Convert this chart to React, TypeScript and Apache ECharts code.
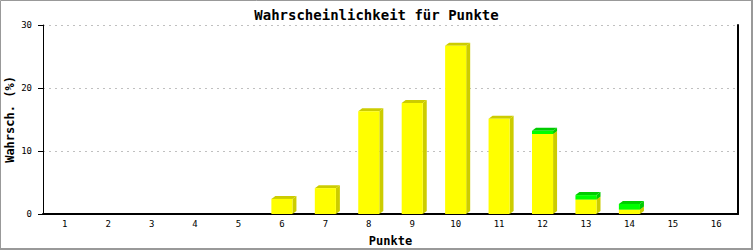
import React, { useEffect, useRef } from "react";
import * as echarts from "echarts";

const categories = ["1", "2", "3", "4", "5", "6", "7", "8", "9", "10", "11", "12", "13", "14", "15", "16"];
const yellowValues = [0, 0, 0, 0, 0, 2.4, 4.1, 16.3, 17.6, 26.7, 15.1, 12.7, 2.3, 0.7, 0, 0];
const greenValues = [0, 0, 0, 0, 0, 0, 0, 0, 0, 0, 0, 0.5, 0.7, 0.9, 0, 0];
const yTicks = { min: 0, max: 30, interval: 10 };

const FONT = "'DejaVu Sans Mono', monospace";

function makeRender(front: string, shade: string) {
  return (params: any, api: any) => {
    const idx = api.value(0);
    const b = api.value(1);
    const t = api.value(2);
    if (t - b <= 0) return { type: "group", children: [] };
    const base = api.coord([idx, b]);
    const top = api.coord([idx, t]);
    const band = api.size([1, 0])[0];
    const w = band * 0.485;
    const x = base[0] - w / 2;
    const yB = base[1];
    const yT = top[1];
    const dx = 4;
    const dy = 3;
    return {
      type: "group",
      children: [
        {
          type: "polygon",
          shape: { points: [[x + w, yT], [x + w + dx, yT - dy], [x + w + dx, yB - dy], [x + w, yB]] },
          style: { fill: shade },
        },
        {
          type: "polygon",
          shape: { points: [[x, yT], [x + dx, yT - dy], [x + w + dx, yT - dy], [x + w, yT]] },
          style: { fill: shade },
        },
        {
          type: "rect",
          shape: { x, y: yT, width: w, height: yB - yT },
          style: { fill: front },
        },
      ],
    };
  };
}

export default function App() {
  const ref = useRef<HTMLDivElement>(null);
  useEffect(() => {
    document.body.style.margin = "0";
    if (!ref.current) return;
    const chart = echarts.init(ref.current, null, { renderer: "svg" });
    const yellowData = yellowValues.map((v, i) => [i, 0, v]);
    const greenData = greenValues.map((g, i) => [i, yellowValues[i], yellowValues[i] + g]);
    chart.setOption({
      animation: false,
      backgroundColor: "#ffffff",
      title: {
        text: "Wahrscheinlichkeit für Punkte",
        left: "center",
        top: 3,
        textStyle: { fontFamily: FONT, fontSize: 14, fontWeight: "bold", color: "#000" },
      },
      grid: { left: 43, right: 15, top: 25, bottom: 36, containLabel: false, outerBoundsMode: "none" },
      xAxis: {
        type: "category",
        data: categories,
        boundaryGap: true,
        name: "Punkte",
        nameLocation: "middle",
        nameGap: 21,
        nameMoveOverlap: false,
        nameTextStyle: { fontFamily: FONT, fontSize: 12, fontWeight: "bold", color: "#000" },
        axisLine: { lineStyle: { color: "#000", width: 2 } },
        axisTick: { show: false },
        axisLabel: { fontFamily: FONT, fontSize: 9, color: "#000", margin: 5 },
      },
      yAxis: [
        {
          type: "value",
          min: yTicks.min,
          max: yTicks.max,
          interval: yTicks.interval,
          name: "Wahrsch. (%)",
          nameLocation: "middle",
          nameGap: 27,
          nameMoveOverlap: false,
          nameTextStyle: { fontFamily: FONT, fontSize: 12, fontWeight: "bold", color: "#000" },
          axisLine: { show: true, lineStyle: { color: "#000", width: 1 } },
          axisTick: { show: true, length: 5, lineStyle: { color: "#000" } },
          axisLabel: { fontFamily: FONT, fontSize: 9, color: "#000", margin: 11 },
          splitLine: { show: true, lineStyle: { color: "#c0c0c0", type: [2, 4], width: 1 } },
        },
        {
          type: "value",
          min: yTicks.min,
          max: yTicks.max,
          interval: yTicks.interval,
          position: "right",
          axisLine: { show: true, lineStyle: { color: "#000", width: 2 } },
          axisTick: { show: false },
          axisLabel: { show: false },
          splitLine: { show: false },
        },
      ],
      series: [
        {
          type: "custom",
          name: "gelb",
          renderItem: makeRender("#ffff00", "#cccc00"),
          data: yellowData,
          encode: { x: 0, y: [1, 2] },
        },
        {
          type: "custom",
          name: "grün",
          renderItem: makeRender("#00ff00", "#00cc00"),
          data: greenData,
          encode: { x: 0, y: [1, 2] },
        },
      ],
      graphic: [
        { type: "rect", shape: { x: 0.5, y: 0.5, width: 751, height: 248 }, style: { fill: "none", stroke: "#999", lineWidth: 1 }, silent: true },
        { type: "rect", shape: { x: 751, y: 0, width: 2, height: 250 }, style: { fill: "#999" }, silent: true },
        { type: "rect", shape: { x: 0, y: 248, width: 753, height: 2 }, style: { fill: "#999" }, silent: true },
      ],
    });
    return () => chart.dispose();
  }, []);
  return <div ref={ref} style={{ width: 753, height: 250 }} />;
}
